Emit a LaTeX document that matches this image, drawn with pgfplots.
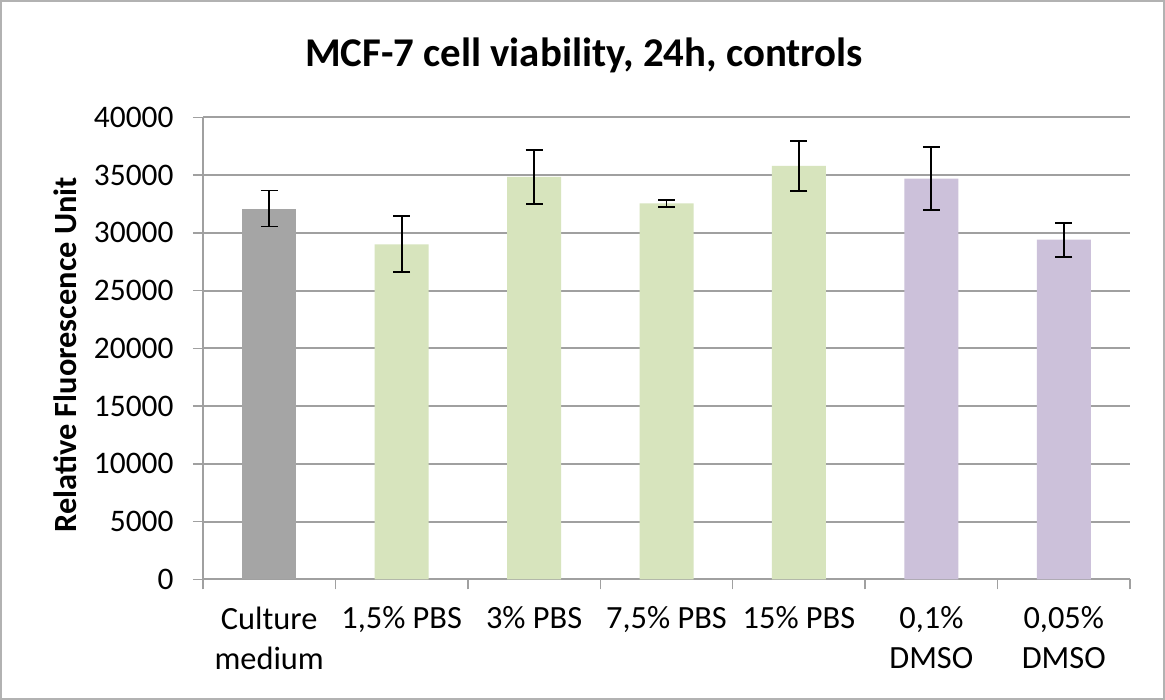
\documentclass[border=0pt]{standalone}
\usepackage{fontspec}
\setmainfont{Carlito}
\usepackage{pgfplots}
\pgfplotsset{compat=1.18}

\definecolor{barGray}{HTML}{A5A5A5}
\definecolor{barGreen}{HTML}{D7E4BD}
\definecolor{barPurple}{HTML}{CCC1DA}
\definecolor{gridGray}{HTML}{A0A0A0}

\begin{document}
\begin{tikzpicture}
\useasboundingbox (0,0) rectangle (1165bp,700bp);
\fill[white] (0,0) rectangle (1165bp,700bp);

\begin{axis}[
  at={(203bp,120.7bp)}, anchor=south west,
  scale only axis,
  width=927bp, height=462bp,
  ybar, bar width=54bp, bar shift=0pt,
  xmin=-0.5, xmax=6.5,
  ymin=0, ymax=40000,
  ytick distance=5000,
  xtick={0,...,6},
  xticklabels={Culture\\medium, {1,5\% PBS}, 3\% PBS, {7,5\% PBS}, 15\% PBS, {0,1\%\\DMSO}, {0,05\%\\DMSO}},
  minor xtick={-0.5,0.5,...,6.5},
  axis x line*=bottom, axis y line*=left,
  axis line style={gridGray, line width=1.5bp, -},
  tick style={gridGray, line width=1.5bp},
  tick align=outside,
  major tick length=10bp,
  x tick style={draw=none},
  minor x tick style={gridGray, line width=1.5bp, draw=gridGray},
  minor tick length=10bp,
  ymajorgrids,
  major grid style={gridGray, line width=2bp},
  scaled y ticks=false,
  /pgf/number format/assume math mode=true,
  /pgf/number format/1000 sep={},
  yticklabel style={font=\fontsize{31.5}{37}\selectfont, xshift=-16bp},
  xticklabel style={font=\fontsize{32.5}{40}\selectfont, align=center, yshift=-14bp},
  ylabel={Relative Fluorescence Unit},
  ylabel style={font=\fontsize{32.5}{38}\selectfont\bfseries, at={(axis description cs:-0.149,0.486)}, anchor=center, rotate=0},
  error bars/y dir=both,
  error bars/y explicit,
  error bars/error bar style={black, line width=1.8bp},
  error bars/error mark options={rotate=90, mark size=8.5bp, line width=1.8bp, black},
]
\addplot[fill=barGray, draw=none] coordinates {
  (0,32100) +- (0,1560)
};
\addplot[fill=barGreen, draw=none] coordinates {
  (1,29000) +- (0,2420)
  (2,34850) +- (0,2350)
  (3,32550) +- (0,300)
  (4,35800) +- (0,2150)
};
\addplot[fill=barPurple, draw=none] coordinates {
  (5,34700) +- (0,2750)
  (6,29400) +- (0,1470)
};
\end{axis}

\node[anchor=base, font=\fontsize{41}{48}\selectfont\bfseries] at (584bp,633.3bp) {MCF-7 cell viability, 24h, controls};
\draw[gray!60, line width=2bp] (1bp,1bp) rectangle (1164bp,699bp);
\end{tikzpicture}
\end{document}
